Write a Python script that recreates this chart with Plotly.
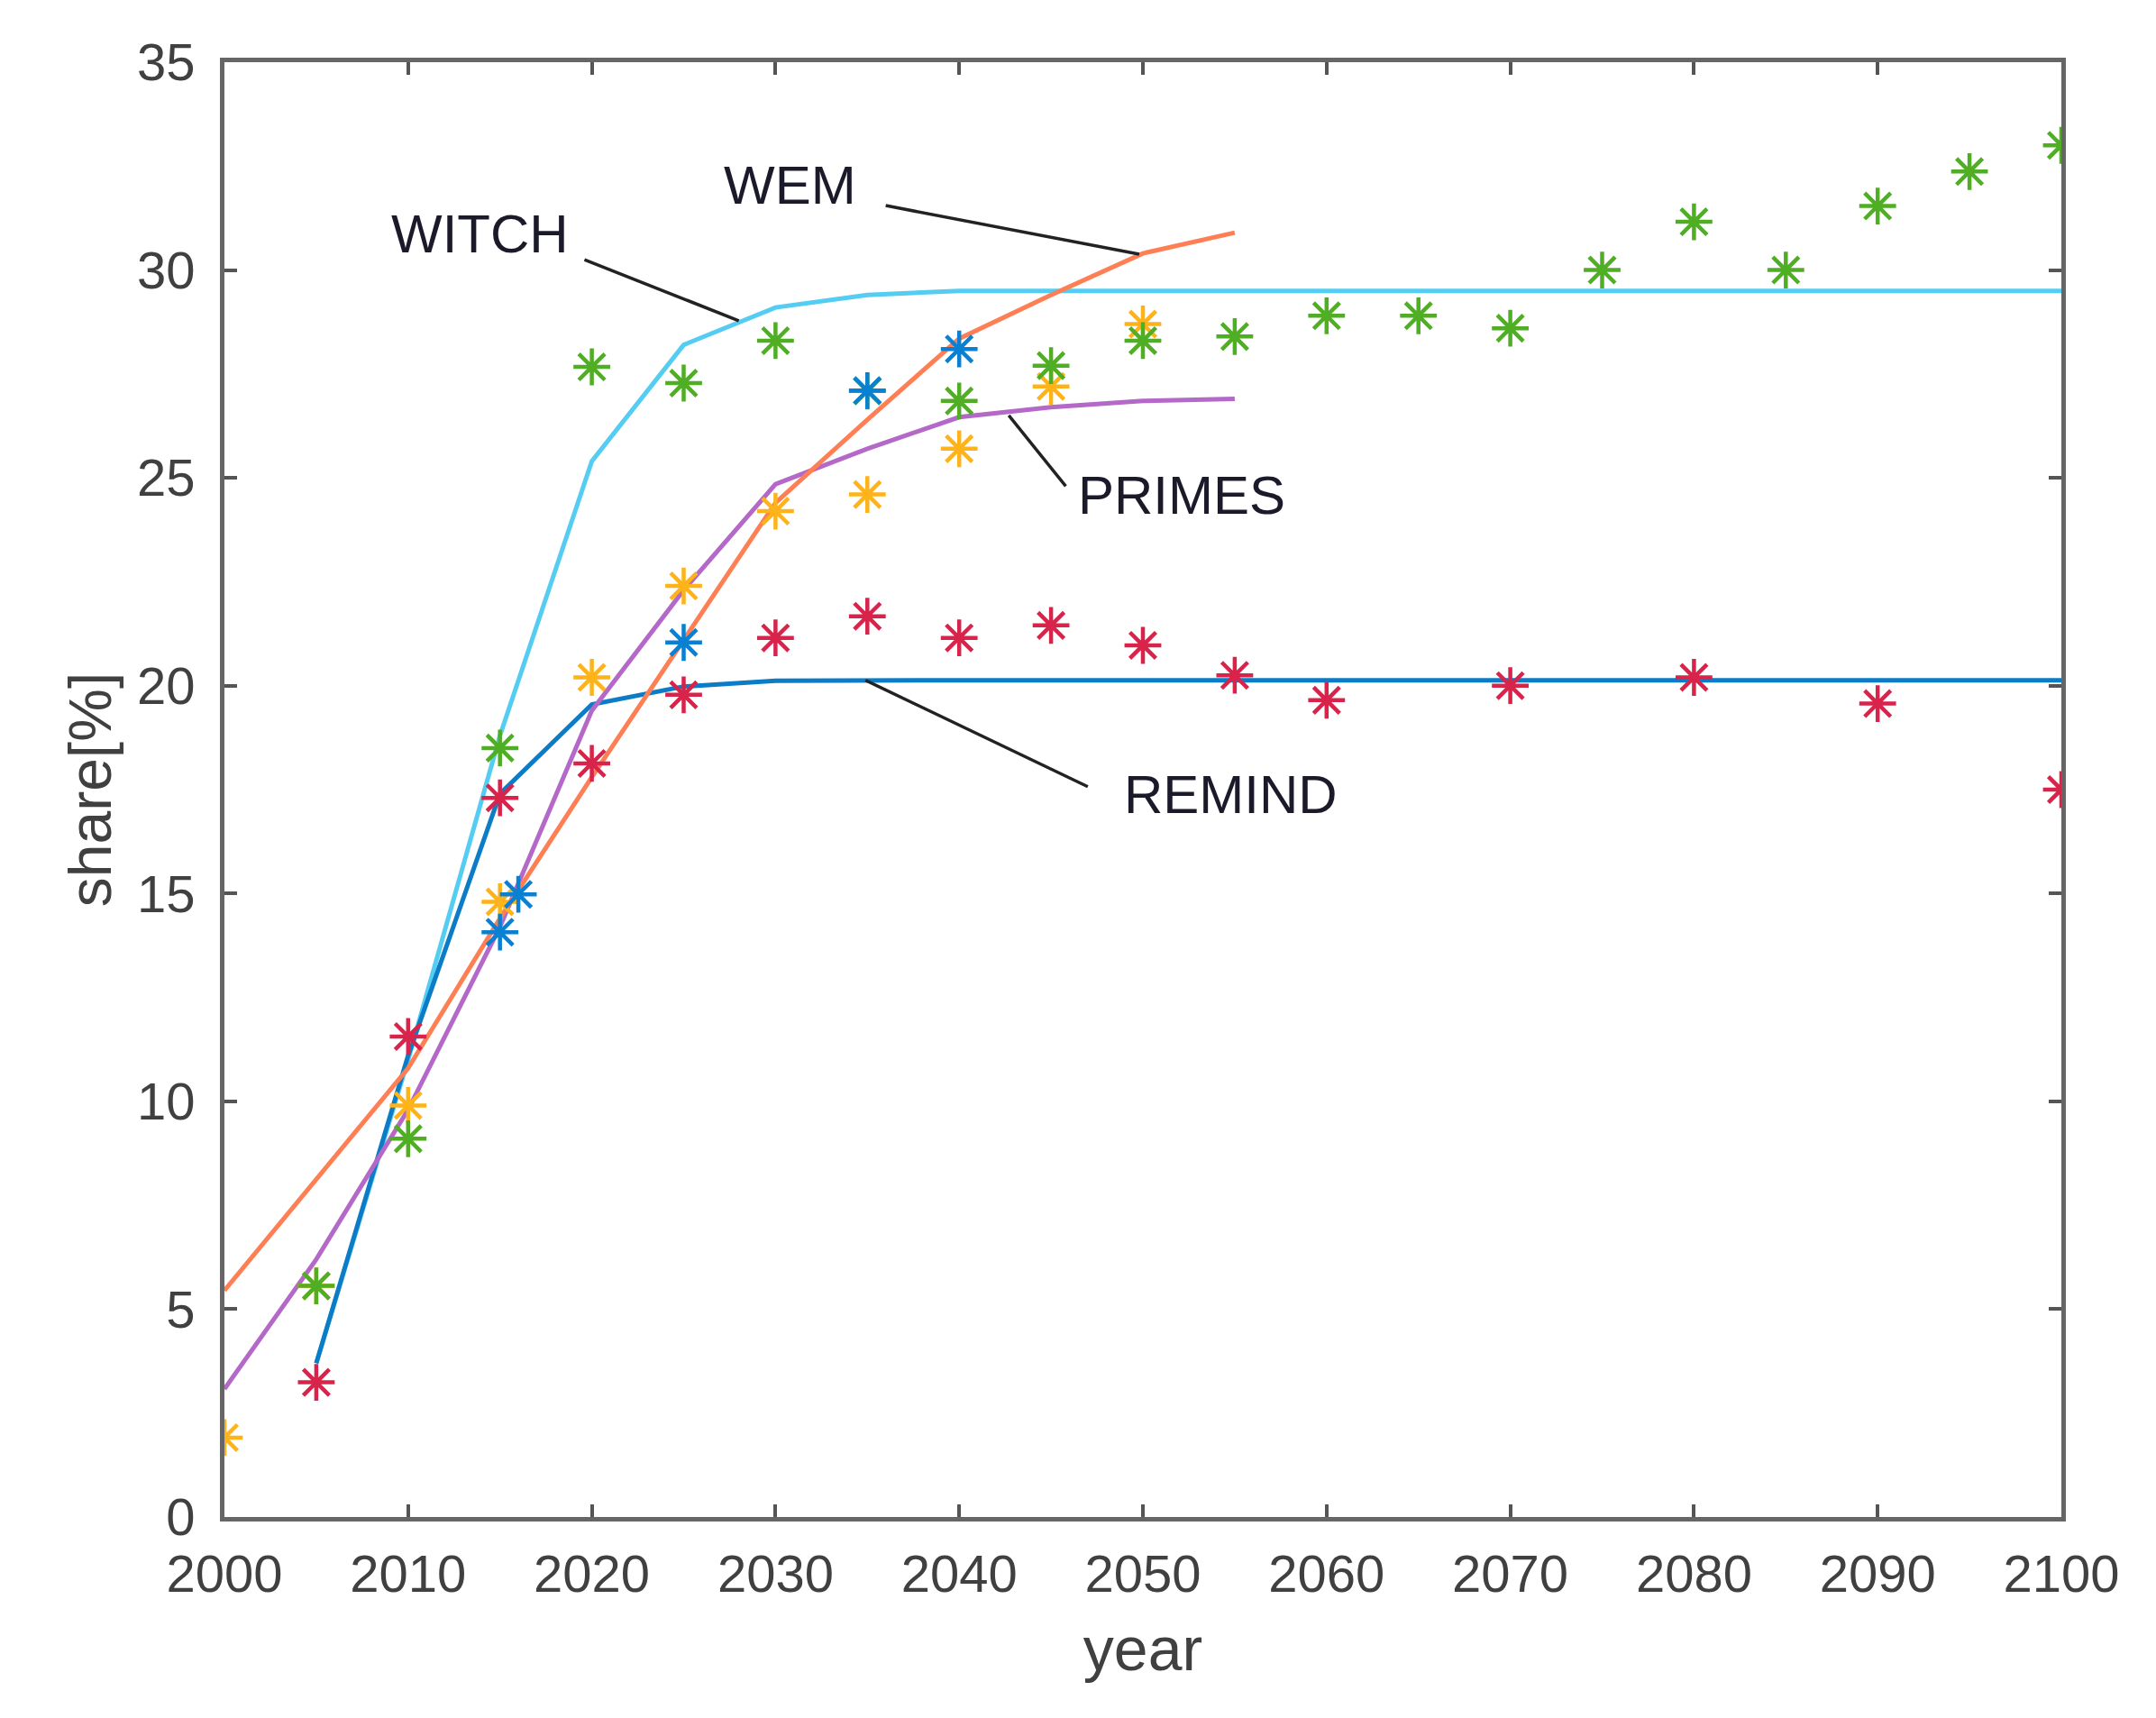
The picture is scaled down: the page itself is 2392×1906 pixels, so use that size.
import plotly.graph_objects as go

# ---- model curves ----
wem_years = [2000, 2010, 2015, 2020, 2025, 2030, 2035, 2040, 2045, 2050, 2055]
wem_share = [5.45, 10.8, 14.4, 17.8, 21.1, 24.4, 26.4, 28.35, 29.4, 30.4, 30.9]

witch_years = [2005, 2010, 2015, 2020, 2025, 2030, 2035, 2040, 2050, 2100]
witch_share = [3.7, 11.0, 18.8, 25.4, 28.2, 29.1, 29.4, 29.5, 29.5, 29.5]

primes_years = [2000, 2005, 2010, 2015, 2020, 2025, 2030, 2035, 2040, 2045, 2050, 2055]
primes_share = [3.08, 6.2, 9.8, 14.2, 19.4, 22.3, 24.85, 25.7, 26.46, 26.7, 26.85, 26.9]

remind_years = [2005, 2010, 2015, 2020, 2025, 2030, 2040, 2050, 2100]
remind_share = [3.7, 11.1, 17.4, 19.55, 19.98, 20.12, 20.13, 20.13, 20.13]

# ---- scattered estimates ----
yellow_years = [2000, 2005, 2010, 2015, 2020, 2025, 2030, 2035, 2040, 2045, 2050]
yellow_share = [1.91, 5.56, 9.9, 14.8, 20.2, 22.4, 24.2, 24.6, 25.7, 27.2, 28.7]

green_years = [2005, 2010, 2015, 2020, 2025, 2030, 2035, 2040, 2045, 2050, 2055, 2060,
               2065, 2070, 2075, 2080, 2085, 2090, 2095, 2100]
green_share = [5.56, 9.1, 18.5, 27.67, 27.28, 28.3, 27.09, 26.85, 27.7, 28.3, 28.4, 28.9,
               28.9, 28.6, 30.0, 31.16, 30.0, 31.54, 32.37, 33.0]

red_years = [2005, 2010, 2015, 2020, 2025, 2030, 2035, 2040, 2045, 2050, 2055, 2060,
             2070, 2080, 2090, 2100]
red_share = [3.24, 11.56, 17.3, 18.13, 19.78, 21.15, 21.67, 21.15, 21.45, 20.97, 20.25, 19.65,
             20.0, 20.2, 19.57, 17.5]

blue_years = [2015, 2016, 2025, 2035, 2040]
blue_share = [14.07, 14.98, 21.04, 27.1, 28.1]

# ---- labels: (text, label x, label y, leader start x, y, leader end x, y) ----
labels = [
    ("WITCH", 2013.9, 30.86, 2019.6, 30.25, 2028.0, 28.78),
    ("WEM", 2030.8, 32.03, 2036.0, 31.55, 2049.8, 30.38),
    ("PRIMES", 2052.1, 24.57, 2042.7, 26.5, 2045.8, 24.8),
    ("REMIND", 2054.8, 17.37, 2034.9, 20.13, 2047.0, 17.57),
]

fig = go.Figure()

lw = 5
fig.add_trace(go.Scatter(x=witch_years, y=witch_share, mode="lines",
                         line=dict(color="#55CDF2", width=lw), name="WITCH"))
fig.add_trace(go.Scatter(x=remind_years, y=remind_share, mode="lines",
                         line=dict(color="#0C7CC6", width=lw), name="REMIND"))
fig.add_trace(go.Scatter(x=primes_years, y=primes_share, mode="lines",
                         line=dict(color="#B468C8", width=lw), name="PRIMES"))
fig.add_trace(go.Scatter(x=wem_years, y=wem_share, mode="lines",
                         line=dict(color="#FF7F55", width=lw), name="WEM"))

def stars(xs, ys, color, name):
    fig.add_trace(go.Scatter(x=xs, y=ys, mode="markers", name=name,
                             marker=dict(symbol="asterisk-open", size=34, color=color,
                                         line=dict(color=color, width=4.5))))

stars(yellow_years, yellow_share, "#FFB31A", "yellow")
stars(green_years, green_share, "#4FAE24", "green")
stars(red_years, red_share, "#D8244A", "red")
stars(blue_years, blue_share, "#0A80D2", "blue")

for text, lx, ly, x0, y0, x1, y1 in labels:
    fig.add_shape(type="line", x0=x0, y0=y0, x1=x1, y1=y1, xref="x", yref="y",
                  line=dict(color="#222222", width=3.5))
    fig.add_annotation(x=lx, y=ly, text=text, showarrow=False, xref="x", yref="y",
                       font=dict(family="Liberation Sans, Arial", size=60, color="#1a1a2a"))

axis_common = dict(showline=True, linecolor="#666666", linewidth=5, mirror="ticks",
                   ticks="inside", ticklen=14, tickwidth=4, tickcolor="#555555",
                   showgrid=False, zeroline=False,
                   tickfont=dict(family="Liberation Sans, Arial", size=58, color="#404040"))

fig.update_xaxes(range=[2000, 2100], dtick=10, tick0=2000, ticklabelstandoff=8,
                 title=dict(text="year", font=dict(family="Liberation Sans, Arial", size=68, color="#404040"),
                            standoff=30),
                 **axis_common)
fig.update_yaxes(range=[0, 35], dtick=5, tick0=0, ticklabelstandoff=16,
                 title=dict(text="share[%]", font=dict(family="Liberation Sans, Arial", size=66, color="#404040"),
                            standoff=8),
                 **axis_common)

fig.update_layout(width=2392, height=1906, showlegend=False,
                  paper_bgcolor="white", plot_bgcolor="white",
                  margin=dict(l=241, r=113, t=61, b=231))

fig.write_html("out.html")
